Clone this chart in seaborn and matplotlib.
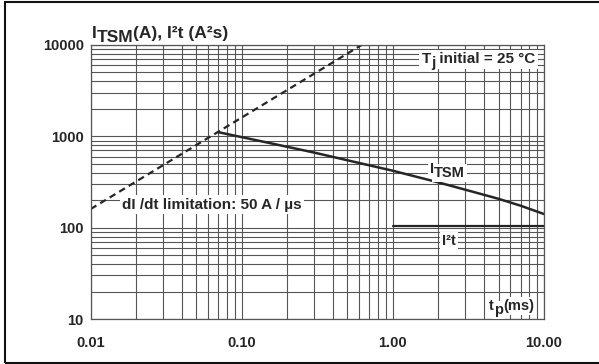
import matplotlib
matplotlib.use("Agg")
import matplotlib.pyplot as plt
from matplotlib.patches import Rectangle
from matplotlib.ticker import LogLocator, NullFormatter
import seaborn as sns

# surge current I_TSM (A) vs pulse width tp (ms)
tp_itsm = [0.07, 0.15, 0.3, 0.6, 1.0, 2.0, 3.0, 5.0, 7.0, 10.0]
itsm = [1110, 850, 665, 510, 420, 313, 261, 207, 174, 141]

# dI/dt limitation (dashed)
tp_didt = [0.01, 0.62]
didt = [160, 10000]

# I2t (A2s)
tp_i2t = [1.0, 10.0]
i2t = [105, 105]

x_ticks = [0.01, 0.1, 1, 10]
x_labels = ["0.01", "0.10", "1.00", "10.00"]
y_ticks = [10, 100, 1000, 10000]
y_labels = ["10", "100", "1000", "10000"]

sns.set_style("white")
plt.rcParams['font.family'] = ['Liberation Sans', 'DejaVu Sans']
ink = '#262626'
grid_c = '#555555'

fig = plt.figure(figsize=(5.99, 3.64), dpi=100)
ax = fig.add_axes([0.1514, 0.1236, 0.7568, 0.7528])

sns.lineplot(x=tp_itsm, y=itsm, ax=ax, color=ink, lw=1.8)
sns.lineplot(x=tp_didt, y=didt, ax=ax, color=ink, lw=1.6, linestyle=(0, (3, 2)))
sns.lineplot(x=tp_i2t, y=i2t, ax=ax, color=ink, lw=1.6)

ax.set_xscale('log')
ax.set_yscale('log')
ax.set_xlim(0.01, 10)
ax.set_ylim(10, 10000)
ax.set_xticks(x_ticks, x_labels)
ax.set_yticks(y_ticks, y_labels)
ax.xaxis.set_minor_locator(LogLocator(base=10, subs=range(2, 10)))
ax.yaxis.set_minor_locator(LogLocator(base=10, subs=range(2, 10)))
ax.xaxis.set_minor_formatter(NullFormatter())
ax.yaxis.set_minor_formatter(NullFormatter())
ax.tick_params(which='both', length=0)
ax.tick_params(axis='x', pad=12)
ax.tick_params(axis='y', pad=5)
for lab in ax.get_xticklabels() + ax.get_yticklabels():
    lab.set_fontsize(10.5)
    lab.set_fontweight('bold')
    lab.set_color(ink)
ax.grid(which='both', color=grid_c, lw=0.8)
ax.set_axisbelow(True)
for sp in ax.spines.values():
    sp.set_color(grid_c)
    sp.set_linewidth(0.9)
ax.set_xlabel("")
ax.set_ylabel("")


def chain(x, y, parts, size, box=False):
    # pieces of text placed one after another, dy in points for subscripts
    passes = [True, False] if box else [False]
    for with_box in passes:
        box_kw = dict(boxstyle='square,pad=0.15', fc='white', ec='none') if with_box else None
        col = 'white' if with_box else ink
        z = 3 if with_box else 4
        prev = None
        prev_dy = 0
        for s, dy in parts:
            if prev is None:
                prev = ax.annotate(s, xy=(x, y), xycoords='figure pixels',
                                   xytext=(0, dy), textcoords='offset points',
                                   ha='left', va='baseline', fontsize=size,
                                   fontweight='bold', color=col, bbox=box_kw, zorder=z)
            else:
                prev = ax.annotate(s, xy=(1, 0), xycoords=prev,
                                   xytext=(0, dy - prev_dy), textcoords='offset points',
                                   ha='left', va='bottom', fontsize=size,
                                   fontweight='bold', color=col, bbox=box_kw, zorder=z)
            prev_dy = dy


chain(92, 325.7, [("I", 0), ("TSM", -3), ("(A), I²t (A²s)", 0)], 12.5)
chain(421.5, 300.7, [("T", 0), ("j", -2.5), (" initial = 25 °C", 0)], 11, box=True)
chain(430, 191, [("I", 0), ("TSM", -3)], 10.5, box=True)
chain(122.5, 155.3, [("dI /dt limitation: 50 A / µs", 0)], 11, box=True)
chain(441.7, 119, [("I²t", 0)], 10.5, box=True)
chain(489.3, 54.3, [("t", 0), ("p", -3), ("(ms)", 0)], 10.5, box=True)

fig.patches.append(Rectangle((5 / 599, 0.0036), 1.2, 0.992, transform=fig.transFigure,
                             fill=False, ec='#111111', lw=1.5))

fig.savefig("out.png", dpi=100)
